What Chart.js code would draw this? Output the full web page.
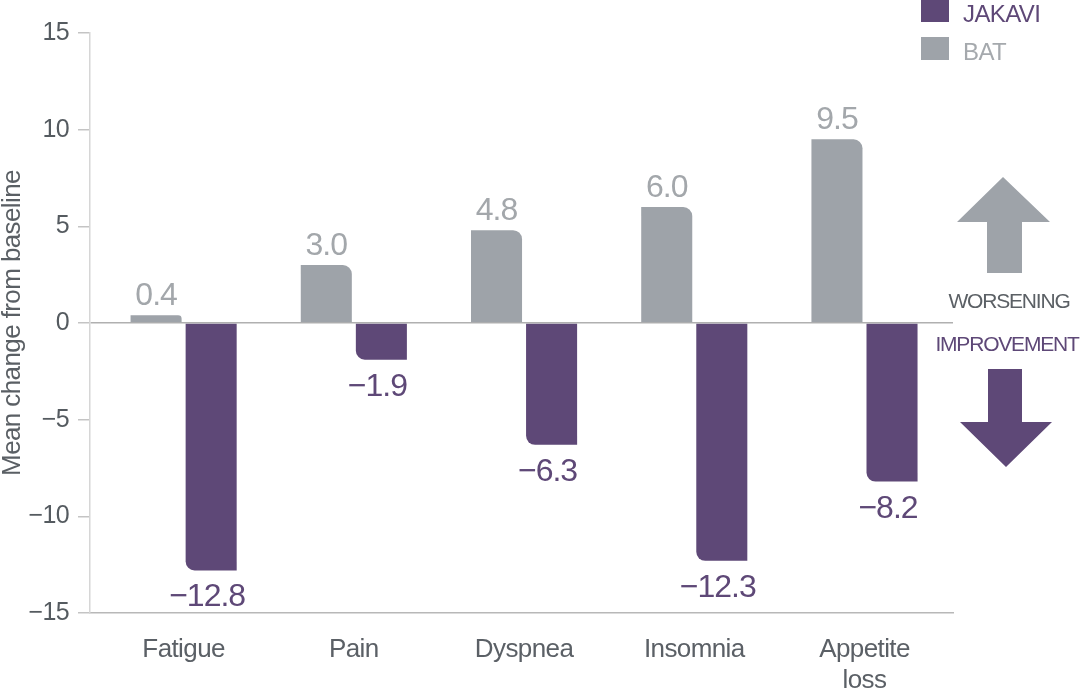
<!DOCTYPE html>
<html><head><meta charset="utf-8">
<script src="https://cdn.jsdelivr.net/npm/chart.js@4"></script>
<style>html,body{margin:0;padding:0;background:#fff}#wrap{width:1080px;height:695px;position:relative}</style>
</head><body><div id="wrap"><canvas id="c"></canvas></div>
<script>
const categories = [['Fatigue'], ['Pain'], ['Dyspnea'], ['Insomnia'], ['Appetite', 'loss']];
const seriesNames = ['BAT', 'JAKAVI'];
const batValues = [0.4, 3.0, 4.8, 6.0, 9.5];
const jakaviValues = [-12.8, -1.9, -6.3, -12.3, -8.2];
const yTickValues = [15, 10, 5, 0, -5, -10, -15];
const yTitle = 'Mean change from baseline';
const directionLabels = ['WORSENING', 'IMPROVEMENT'];

const PURPLE = '#5e4877';
const GREY = '#9ea3a9';
const FONT = "'Liberation Sans', Arial, sans-serif";
const fmt = v => (v < 0 ? '\u2212' + Math.abs(v).toFixed(1) : v.toFixed(1));
const fmtTick = v => (v < 0 ? '\u2212' + Math.abs(v) : String(v));

const overlayPlugin = {
  id: 'overlay',
  beforeDraw(chart) {
    try { chart.ctx.letterSpacing = '-0.6px'; } catch (e) {}
  },
  afterDatasetsDraw(chart) {
    const ctx = chart.ctx;
    ctx.save();
    ctx.font = '32px ' + FONT;
    ctx.textAlign = 'center';
    ctx.textBaseline = 'alphabetic';
    try { ctx.letterSpacing = '-1px'; } catch (e) {}
    chart.data.datasets.forEach((ds, di) => {
      const meta = chart.getDatasetMeta(di);
      meta.data.forEach((el, i) => {
        const v = ds.data[i].y;
        ctx.fillStyle = di === 0 ? '#a3a7ab' : PURPLE;
        if (v >= 0) ctx.fillText(fmt(v), el.x, el.y - 10);
        else ctx.fillText(fmt(v), el.x - 4, el.y + 36);
      });
    });
    ctx.restore();
  },
  afterDraw(chart) {
    const ctx = chart.ctx;
    ctx.save();
    const legendItems = [
      { label: seriesNames[1], color: PURPLE, text: PURPLE, y: -1 },
      { label: seriesNames[0], color: GREY, text: '#a5a9ad', y: 37 }
    ];
    ctx.font = '24px ' + FONT;
    ctx.textAlign = 'left';
    ctx.textBaseline = 'alphabetic';
    legendItems.forEach(it => {
      ctx.fillStyle = it.color;
      ctx.fillRect(921, it.y, 28, 23);
      ctx.fillStyle = it.text;
      ctx.fillText(it.label, 963, it.y + 23);
    });
    ctx.fillStyle = GREY;
    ctx.beginPath();
    ctx.moveTo(1003, 177); ctx.lineTo(1050, 222); ctx.lineTo(1022, 222);
    ctx.lineTo(1022, 273); ctx.lineTo(987, 273); ctx.lineTo(987, 222);
    ctx.lineTo(957, 222); ctx.closePath(); ctx.fill();
    ctx.fillStyle = PURPLE;
    ctx.beginPath();
    ctx.moveTo(988, 369); ctx.lineTo(1022, 369); ctx.lineTo(1022, 422);
    ctx.lineTo(1052, 422); ctx.lineTo(1006, 467); ctx.lineTo(960, 422);
    ctx.lineTo(988, 422); ctx.closePath(); ctx.fill();
    ctx.font = '21px ' + FONT;
    ctx.textAlign = 'center';
    ctx.textBaseline = 'middle';
    try { ctx.letterSpacing = '-1.2px'; } catch (e) {}
    ctx.fillStyle = '#5b6065';
    ctx.fillText(directionLabels[0], 1009, 302);
    ctx.fillStyle = PURPLE;
    ctx.fillText(directionLabels[1], 1007, 345);
    ctx.restore();
    try { ctx.letterSpacing = '0px'; } catch (e) {}
  }
};

new Chart(document.getElementById('c'), {
  type: 'bar',
  data: {
    datasets: [
      {
        label: seriesNames[0],
        data: batValues.map((v, i) => ({ x: i, y: v })),
        backgroundColor: GREY,
        borderRadius: { topRight: 9 },
        borderSkipped: 'start'
      },
      {
        label: seriesNames[1],
        data: jakaviValues.map((v, i) => ({ x: i, y: v })),
        backgroundColor: PURPLE,
        borderRadius: { bottomLeft: 9 },
        borderSkipped: 'start'
      }
    ]
  },
  options: {
    responsive: true,
    maintainAspectRatio: false,
    animation: false,
    categoryPercentage: 0.647,
    barPercentage: 0.927,
    layout: { padding: { top: 33, right: 127, bottom: 0, left: 0 } },
    plugins: { legend: { display: false }, tooltip: { enabled: false } },
    scales: {
      x: {
        type: 'linear',
        offset: false,
        min: -0.55,
        max: 4.52,
        afterBuildTicks: s => { s.ticks = categories.map((c, i) => ({ value: i })); },
        afterFit: s => { s.height = 82; },
        grid: { display: false, drawTicks: false },
        border: { display: true, color: '#b8b8b8', width: 1.5 },
        ticks: {
          autoSkip: false, maxRotation: 0, padding: 21,
          color: '#5b6066',
          font: { family: FONT, size: 26, lineHeight: 1.2 },
          callback: v => categories[v]
        }
      },
      y: {
        min: -15, max: 15,
        afterBuildTicks: s => { s.ticks = yTickValues.map(v => ({ value: v })); },
        afterFit: s => { s.width = 90; },
        grid: {
          drawOnChartArea: true,
          color: c => (c.tick && c.tick.value === 0 ? '#b0b0b0' : 'rgba(0,0,0,0)'),
          tickColor: '#c4c4c4',
          tickLength: 12,
          lineWidth: 1.5
        },
        border: { display: true, color: '#d6d6d6', width: 1.5 },
        ticks: {
          padding: 9,
          color: '#555b60',
          font: { family: FONT, size: 25 },
          callback: v => fmtTick(v)
        },
        title: {
          display: true,
          text: yTitle,
          color: '#5a5f64',
          padding: 0,
          font: { family: FONT, size: 26, lineHeight: 1.0 }
        }
      }
    }
  },
  plugins: [overlayPlugin]
});
</script>
</body></html>
